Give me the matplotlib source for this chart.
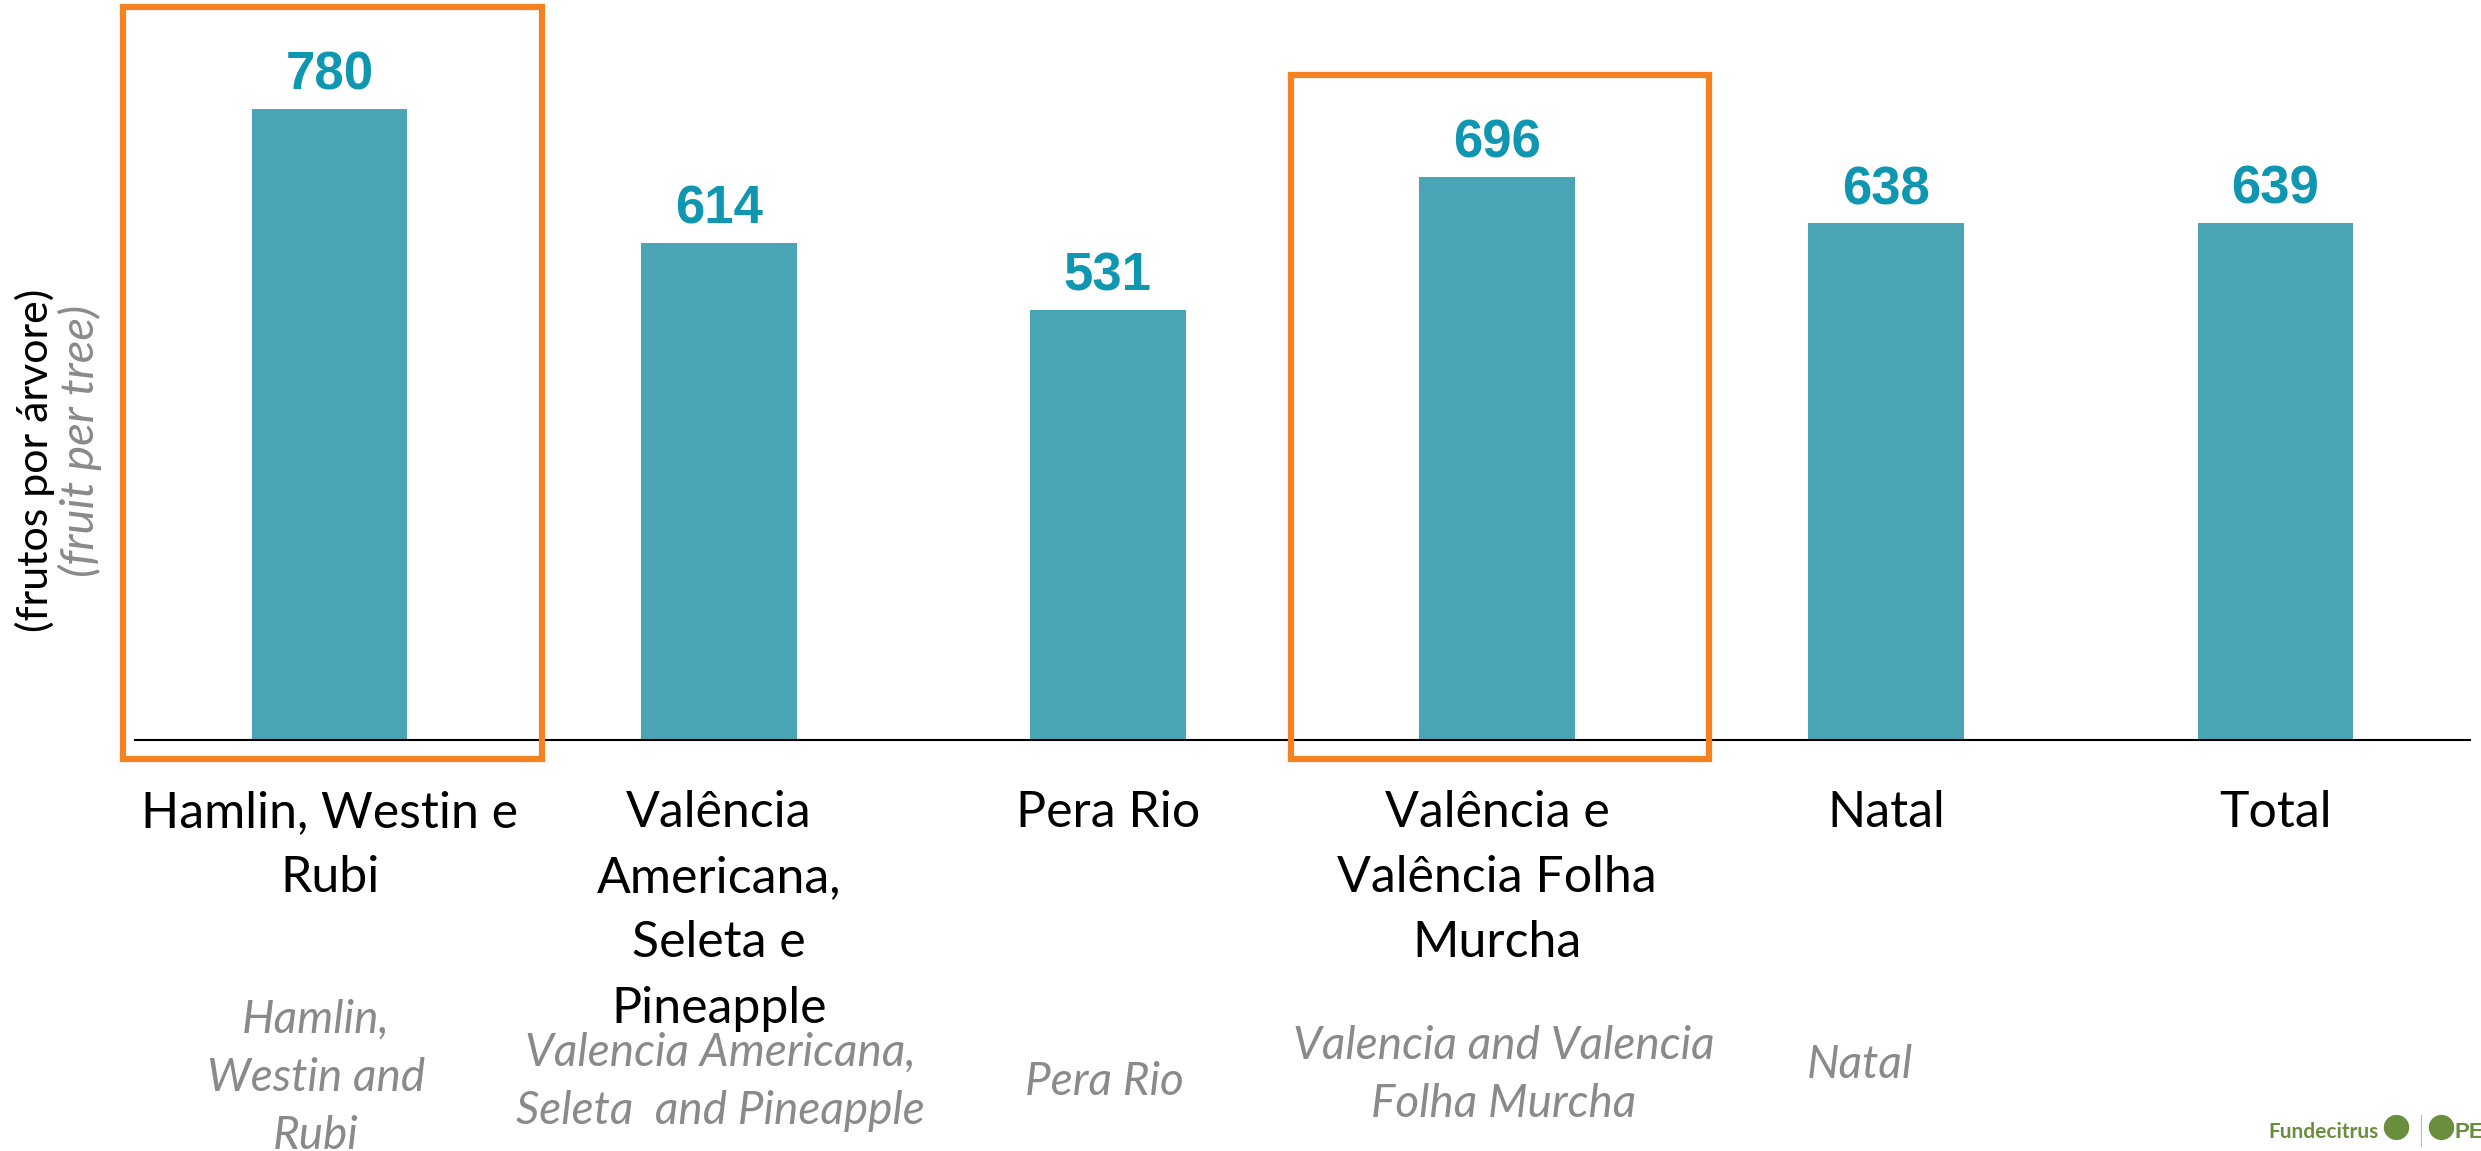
import matplotlib
matplotlib.use("Agg")
import matplotlib.pyplot as plt
from matplotlib.patches import Rectangle
from matplotlib.transforms import blended_transform_factory

# ---------------- data ----------------
categories_pt = ["Hamlin, Westin e\nRubi",
                 "Valência\nAmericana,\nSeleta e\nPineapple",
                 "Pera Rio",
                 "Valência e\nValência Folha\nMurcha",
                 "Natal",
                 "Total"]
categories_en = ["Hamlin,\nWestin and\nRubi",
                 "Valencia Americana,\nSeleta  and Pineapple",
                 "Pera Rio",
                 "Valencia and Valencia\nFolha Murcha",
                 "Natal",
                 ""]
values = [780, 614, 531, 696, 638, 639]
highlighted = [0, 3]
ylabel_pt = "(frutos por árvore)"
ylabel_en = "(fruit per tree)"

# ---------------- style ----------------
W, H = 2481, 1151
BAR_COLOR = "#4AA5B6"
VAL_COLOR = "#0F96B0"
ORANGE = "#F58220"
GRAY = "#8A8A8A"
GREEN = "#6B8E3E"
TEXT_FONT = ["Lato", "DejaVu Sans"]
NUM_FONT = ["Liberation Sans Narrow", "Liberation Sans", "DejaVu Sans"]

def fx(px):
    return px / W

def fy(py):
    return 1 - py / H

fig = plt.figure(figsize=(W / 100, H / 100), dpi=100)
fig.patch.set_facecolor("white")

base_px = 740
ax = fig.add_axes([fx(135), fy(base_px), (2470 - 135) / W, base_px / H])
ax.set_xlim(-0.5, 5.5)
ax.set_ylim(0, base_px / 0.8096)

x = list(range(len(values)))
ax.bar(x, values, width=0.4, color=BAR_COLOR, zorder=2)

for s in ["top", "right", "left"]:
    ax.spines[s].set_visible(False)
ax.spines["bottom"].set_color("black")
ax.spines["bottom"].set_linewidth(1.5)
ax.set_yticks([])

ax.set_xticks(x)
ax.set_xticklabels(categories_pt, fontsize=36, family=TEXT_FONT,
                   color="black", linespacing=1.52)
ax.tick_params(axis="x", length=0, pad=36)

# value labels
for i, v in enumerate(values):
    ax.annotate(f"{v}", (i, v), xytext=(0, 14), textcoords="offset points",
                ha="center", va="baseline", fontsize=38, fontweight="bold",
                family=NUM_FONT, color=VAL_COLOR)

# highlight boxes
for i in highlighted:
    ax.add_patch(Rectangle((i - 0.53, -24), 1.075, values[i] + 126 + 24,
                           fill=False, ec=ORANGE, lw=4.5, clip_on=False,
                           zorder=3))

# english (italic gray) labels
en_dx = [-0.035, 0.005, -0.008, 0.018, -0.068, 0.0]
en_y = [1078, 1082, 1082, 1075, 1065, 1075]
tr = blended_transform_factory(ax.transData, fig.transFigure)
for i, lab in enumerate(categories_en):
    if lab:
        ax.text(i + en_dx[i], fy(en_y[i]), lab, transform=tr, ha="center",
                va="center", fontsize=33, style="italic", family=TEXT_FONT,
                color=GRAY, linespacing=1.47, clip_on=False)

# y labels
fig.text(fx(35), fy(460), ylabel_pt, rotation=90, ha="center", va="center",
         fontsize=31, family=TEXT_FONT, color="black")
fig.text(fx(80), fy(441), ylabel_en, rotation=90, ha="center", va="center",
         fontsize=34, style="italic", family=TEXT_FONT, color=GRAY)

# logo
fig.text(fx(2268), fy(1138), "Fundecitrus", ha="left", va="baseline",
         fontsize=15, fontweight="bold", family=TEXT_FONT, color=GREEN)
fig.text(fx(2396), fy(1126), "\u25CF", ha="center", va="center",
         fontsize=24, color=GREEN, family="DejaVu Sans")
fig.add_artist(plt.Line2D([fx(2421), fx(2421)], [fy(1146), fy(1115)],
                          color="#BBBBBB", lw=0.8))
fig.text(fx(2441), fy(1126), "\u25CF", ha="center", va="center",
         fontsize=24, color=GREEN, family="DejaVu Sans")
fig.text(fx(2455), fy(1138), "PE", ha="left", va="baseline",
         fontsize=16, fontweight="bold", family=NUM_FONT, color=GREEN)

fig.savefig("out.png", dpi=100, facecolor="white")
